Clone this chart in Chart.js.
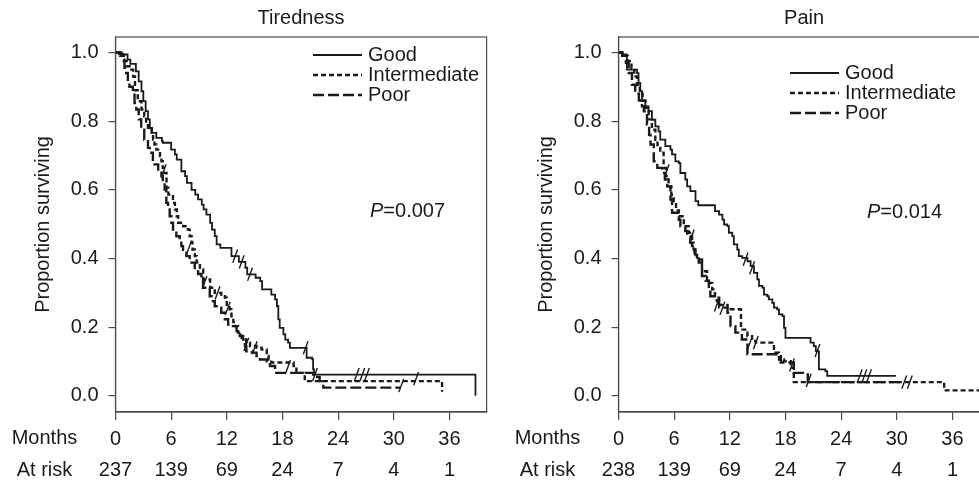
<!DOCTYPE html>
<html><head><meta charset="utf-8">
<script src="https://cdn.jsdelivr.net/npm/chart.js@4.4.1/dist/chart.umd.min.js"></script>
<style>
html,body{margin:0;padding:0;background:#fff;overflow:hidden;width:979px;height:484px;}
.box{position:absolute;top:0;width:495px;height:484px;}
#w1{left:0}
#w2{left:503px}
</style></head><body>
<div class="box" id="w1"><canvas id="c1" width="495" height="484"></canvas></div>
<div class="box" id="w2"><canvas id="c2" width="495" height="484"></canvas></div>
<script>
const monthTicks = [0, 6, 12, 18, 24, 30, 36];
const yTicks = [0, 0.2, 0.4, 0.6, 0.8, 1.0];
const seriesNames = ['Good', 'Intermediate', 'Poor'];
const titles = ['Tiredness', 'Pain'];
const pValues = ['0.007', '0.014'];
const atRiskTiredness = [237, 139, 69, 24, 7, 4, 1];
const atRiskPain = [238, 139, 69, 24, 7, 4, 1];

// Kaplan-Meier steps: [month, proportion surviving]
const tiredGood = [[0,1],[0.7,0.994],[1.3,0.979],[1.6,0.967],[2.2,0.945],[2.5,0.916],[2.8,0.887],[3.0,0.858],[3.25,0.829],[3.5,0.805],[3.7,0.78],[3.95,0.766],[4.4,0.751],[5.0,0.742],[5.1,0.737],[6.0,0.717],[6.4,0.703],[6.6,0.688],[7.1,0.654],[7.5,0.64],[7.7,0.62],[8.2,0.60],[8.6,0.586],[8.9,0.572],[9.3,0.557],[9.5,0.543],[9.8,0.528],[10.2,0.504],[10.4,0.484],[10.7,0.465],[10.9,0.441],[11.3,0.431],[12.5,0.407],[13.3,0.39],[14.0,0.373],[14.2,0.354],[15.1,0.344],[15.6,0.334],[15.8,0.31],[16.8,0.295],[17.2,0.281],[17.4,0.261],[17.55,0.223],[17.7,0.198],[18.1,0.179],[18.3,0.164],[18.6,0.155],[18.8,0.14],[20.6,0.111],[21.2,0.106],[21.3,0.077],[21.4,0.062],[38.8,0]];
const tiredInter = [[0,1],[0.5,0.99],[0.9,0.975],[1.2,0.96],[1.7,0.95],[1.9,0.93],[2.1,0.89],[2.4,0.858],[2.8,0.834],[3.1,0.814],[3.3,0.795],[3.5,0.775],[3.9,0.766],[4.05,0.746],[4.2,0.732],[4.4,0.717],[4.8,0.698],[4.95,0.683],[5.1,0.664],[5.2,0.649],[5.5,0.606],[5.7,0.586],[6.2,0.562],[6.4,0.543],[6.6,0.523],[6.75,0.504],[7.3,0.494],[7.8,0.484],[8.0,0.465],[8.2,0.446],[8.3,0.426],[8.55,0.407],[8.75,0.388],[9.1,0.368],[9.45,0.339],[10.2,0.315],[10.7,0.30],[11.4,0.29],[11.8,0.286],[12.0,0.261],[12.3,0.252],[12.5,0.232],[12.7,0.215],[12.9,0.203],[13.2,0.184],[13.6,0.164],[14.1,0.155],[14.5,0.145],[15.2,0.14],[15.75,0.135],[16.3,0.116],[16.5,0.106],[16.8,0.097],[19.2,0.087],[19.5,0.067],[20.25,0.062],[20.4,0.043],[35.2,0.043],[35.2,0.012]];
const tiredPoor = [[0,1],[0.4,0.995],[0.8,0.989],[0.97,0.955],[1.15,0.94],[1.33,0.916],[1.5,0.90],[1.87,0.882],[2.05,0.853],[2.24,0.834],[2.5,0.805],[2.77,0.775],[3.1,0.746],[3.5,0.722],[3.7,0.708],[4.03,0.683],[4.2,0.674],[4.6,0.659],[4.95,0.64],[5.1,0.62],[5.3,0.601],[5.48,0.562],[5.66,0.543],[5.84,0.523],[6.02,0.504],[6.2,0.484],[6.56,0.465],[6.92,0.455],[7.1,0.436],[7.28,0.417],[7.64,0.407],[8.0,0.388],[8.54,0.368],[8.9,0.355],[9.26,0.342],[9.44,0.315],[9.98,0.31],[10.16,0.29],[10.5,0.276],[10.7,0.261],[11.06,0.257],[11.4,0.242],[11.78,0.223],[12.14,0.208],[12.5,0.203],[13.05,0.189],[13.4,0.174],[13.76,0.164],[13.95,0.145],[14.1,0.13],[14.7,0.126],[15.2,0.116],[15.57,0.106],[16.3,0.101],[16.65,0.087],[17.2,0.067],[21.3,0.055],[22.0,0.043],[22.4,0.024],[30.7,0.024]];
const tiredCensorGood = [[12.9,0.407],[13.6,0.39],[14.5,0.354],[20.5,0.14],[21.5,0.062],[26.0,0.062],[26.6,0.062],[27.1,0.062]];
const tiredCensorOther = [[5.2,0.655],[7.9,0.43],[9.6,0.33],[11.0,0.3],[12.1,0.255],[14.1,0.15],[15.0,0.14],[18.6,0.085],[30.8,0.03],[32.4,0.05]];

const painGood = [[0,1],[0.4,0.994],[0.9,0.95],[2.0,0.94],[2.16,0.911],[2.35,0.887],[2.53,0.858],[2.9,0.843],[3.24,0.829],[3.6,0.804],[3.97,0.785],[4.32,0.77],[4.5,0.746],[5.05,0.727],[5.6,0.717],[5.77,0.703],[6.13,0.683],[6.5,0.678],[6.67,0.649],[7.2,0.63],[7.4,0.61],[7.75,0.596],[8.3,0.567],[8.6,0.555],[10.4,0.538],[10.84,0.528],[11.2,0.513],[11.38,0.499],[11.74,0.494],[11.9,0.475],[12.26,0.465],[12.43,0.441],[12.8,0.426],[12.97,0.407],[13.34,0.402],[13.9,0.392],[14.24,0.378],[14.6,0.358],[14.96,0.339],[15.14,0.32],[15.5,0.315],[15.68,0.295],[16.04,0.29],[16.2,0.281],[16.58,0.271],[16.76,0.257],[17.1,0.252],[17.3,0.237],[17.67,0.232],[17.84,0.198],[18.0,0.169],[20.7,0.155],[21.05,0.145],[21.27,0.13],[21.6,0.077],[22.3,0.072],[22.5,0.058],[29.9,0.058]];
const painInter = [[0,1],[0.6,0.99],[1.0,0.975],[1.4,0.955],[1.7,0.93],[2.0,0.905],[2.3,0.88],[2.6,0.86],[2.9,0.838],[3.25,0.805],[3.6,0.775],[3.97,0.746],[4.2,0.73],[4.5,0.708],[4.86,0.664],[5.1,0.64],[5.4,0.61],[5.7,0.585],[5.95,0.562],[6.2,0.54],[6.5,0.523],[7.04,0.494],[7.57,0.475],[7.93,0.436],[8.2,0.415],[8.47,0.397],[9.0,0.363],[9.54,0.329],[10.1,0.31],[10.4,0.286],[10.85,0.265],[11.75,0.252],[13.2,0.193],[13.9,0.174],[14.4,0.16],[14.8,0.155],[16.76,0.126],[17.3,0.106],[17.84,0.101],[18.56,0.082],[18.9,0.04],[35.1,0.04],[35.1,0.016],[41,0.016]];
const painPoor = [[0,1],[0.4,0.99],[0.8,0.97],[1.1,0.94],[1.45,0.906],[1.8,0.88],[2.2,0.86],[2.53,0.843],[2.73,0.829],[3.07,0.79],[3.3,0.76],[3.45,0.732],[3.8,0.683],[4.18,0.664],[4.7,0.649],[5.0,0.63],[5.25,0.61],[5.6,0.572],[5.77,0.533],[6.5,0.513],[6.67,0.494],[7.2,0.48],[7.4,0.465],[7.75,0.446],[8.1,0.426],[8.3,0.41],[8.65,0.388],[9.0,0.349],[9.4,0.335],[9.74,0.31],[9.9,0.29],[10.6,0.276],[10.85,0.257],[11.75,0.242],[12.07,0.203],[12.6,0.184],[13.3,0.164],[13.9,0.121],[17.5,0.097],[18.9,0.067],[20.2,0.0625],[20.4,0.04],[30.6,0.04]];
const painCensorGood = [[13.7,0.398],[14.4,0.373],[21.45,0.132],[26.0,0.058],[26.5,0.058],[27.0,0.058]];
const painCensorOther = [[5.2,0.655],[7.9,0.465],[10.6,0.265],[11.2,0.255],[14.1,0.15],[14.8,0.155],[18.7,0.09],[20.5,0.045],[30.8,0.04],[31.4,0.04]];

const INK = '#1a1a1a';
const AXIS = '#4a4a4a';
const FONT = '"Liberation Sans", Arial, sans-serif';
const styles = [
  {dash: [], width: 1.8},
  {dash: [5, 3], width: 2.4},
  {dash: [11, 4], width: 2.4}
];
const toXY = arr => arr.map(p => ({x: p[0], y: p[1]}));

function decoPlugin(cfg) {
  return {
    id: 'deco',
    afterDraw(chart) {
      const ctx = chart.ctx, a = chart.chartArea, xs = chart.scales.x;
      ctx.save();
      ctx.strokeStyle = AXIS; ctx.lineWidth = 1.2; ctx.setLineDash([]);
      ctx.strokeRect(a.left, a.top, a.right - a.left, a.bottom - a.top);
      ctx.fillStyle = INK;
      ctx.font = '20px ' + FONT;
      ctx.textAlign = 'center'; ctx.textBaseline = 'middle';
      ctx.fillText(cfg.title, (a.left + a.right) / 2, 18);
      ctx.save();
      ctx.translate(a.left - 72.5, (a.top + a.bottom) / 2);
      ctx.rotate(-Math.PI / 2);
      ctx.fillText('Proportion surviving', 0, 0);
      ctx.restore();
      ctx.fillText('Months', a.left - 71, 438);
      ctx.fillText('At risk', a.left - 71, 470);
      cfg.atRisk.forEach((n, i) => {
        ctx.fillText(String(n), xs.getPixelForValue(monthTicks[i]), 470);
      });
      ctx.textAlign = 'left';
      seriesNames.forEach((name, i) => {
        const y = cfg.legY + i * 20;
        ctx.strokeStyle = INK; ctx.lineWidth = styles[i].width;
        ctx.setLineDash(styles[i].dash);
        ctx.beginPath(); ctx.moveTo(cfg.legX, y); ctx.lineTo(cfg.legX + 49, y); ctx.stroke();
        ctx.fillText(name, cfg.legX + 55, y);
      });
      ctx.setLineDash([]);
      ctx.font = 'italic 20px ' + FONT;
      ctx.fillText('P', cfg.pX, cfg.pY);
      const w = ctx.measureText('P').width;
      ctx.font = '20px ' + FONT;
      ctx.fillText('=' + cfg.p, cfg.pX + w, cfg.pY);
      ctx.restore();
    }
  };
}

function makeChart(id, series, censorGood, censorOther, cfg) {
  const datasets = series.map((s, i) => ({
    type: 'line', label: seriesNames[i], data: toXY(s),
    borderColor: INK, borderWidth: styles[i].width, borderDash: styles[i].dash,
    stepped: true, pointRadius: 0, fill: false, tension: 0
  }));
  [censorGood, censorOther].forEach(c => datasets.push({
    type: 'line', label: 'censored', data: toXY(c), showLine: false,
    pointStyle: 'line', pointRadius: 7, pointRotation: -70,
    pointBorderColor: INK, pointBorderWidth: 1.4, borderColor: INK
  }));
  return new Chart(document.getElementById(id), {
    type: 'line',
    data: {datasets},
    options: {
      responsive: false, animation: false, devicePixelRatio: 1, events: [],
      layout: {padding: {top: 37, right: 0, left: 0, bottom: 0}},
      plugins: {legend: {display: false}, tooltip: {enabled: false}, title: {display: false}},
      scales: {
        x: {
          type: 'linear', min: 0, max: 40,
          afterBuildTicks: s => { s.ticks = monthTicks.map(v => ({value: v})); },
          afterFit: s => { s.height = 72; s.paddingRight = 0; },
          ticks: {autoSkip: false, maxRotation: 0, color: INK, font: {family: FONT, size: 20}, padding: 7,
                  callback: v => String(v)},
          grid: {display: true, drawOnChartArea: false, drawTicks: true, tickLength: 8, color: AXIS, lineWidth: 1.2},
          border: {display: true, color: AXIS, width: 1.2}
        },
        y: {
          type: 'linear', min: -0.047, max: 1.045,
          afterBuildTicks: s => { s.ticks = yTicks.map(v => ({value: v})); },
          afterFit: s => { s.width = 115.5; },
          ticks: {color: INK, font: {family: FONT, size: 20}, padding: 10, callback: v => Number(v).toFixed(1)},
          grid: {display: true, drawOnChartArea: false, drawTicks: true, tickLength: 7, color: AXIS, lineWidth: 1.2},
          border: {display: true, color: AXIS, width: 1.2}
        }
      }
    },
    plugins: [decoPlugin(cfg)]
  });
}

makeChart('c1', [tiredGood, tiredInter, tiredPoor], tiredCensorGood, tiredCensorOther,
  {title: titles[0], atRisk: atRiskTiredness, legX: 313, legY: 55, pX: 370, pY: 211, p: pValues[0]});
makeChart('c2', [painGood, painInter, painPoor], painCensorGood, painCensorOther,
  {title: titles[1], atRisk: atRiskPain, legX: 287, legY: 73, pX: 364, pY: 212, p: pValues[1]});
</script>
</body></html>
